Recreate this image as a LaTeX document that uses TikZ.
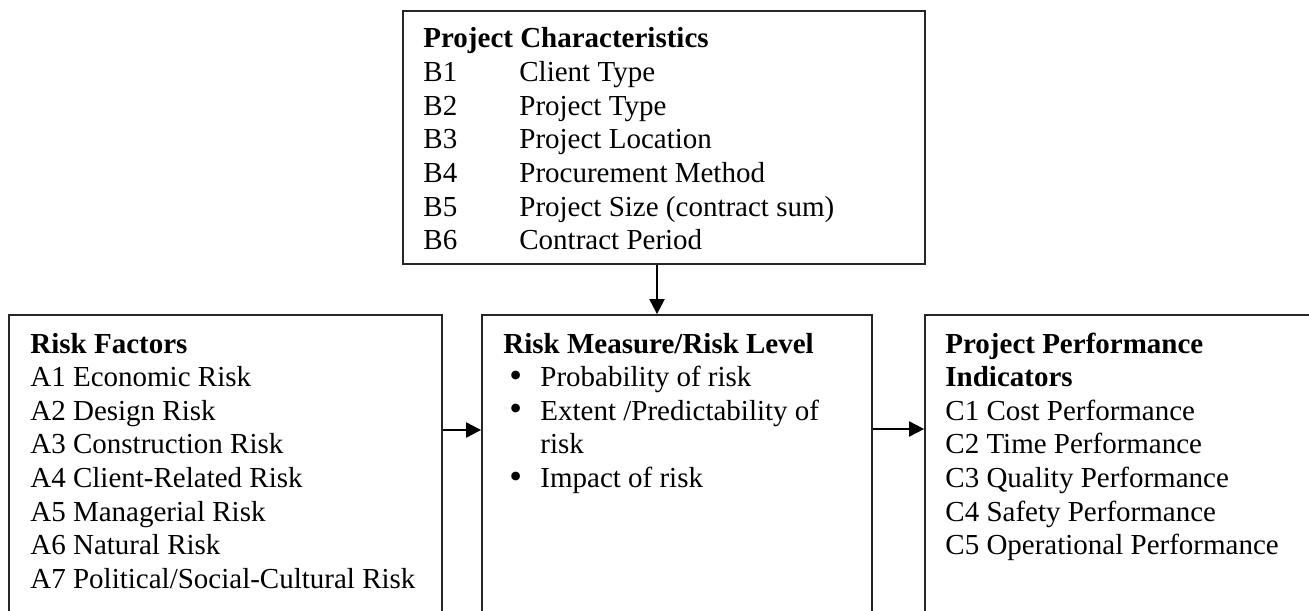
\documentclass[tikz,border=0pt]{standalone}
\usepackage{fontspec}
\setmainfont{Liberation Serif}
\usetikzlibrary{arrows.meta,fit}

\tikzset{
  box/.style={draw=black!85, line width=0.9pt, inner sep=0pt, rectangle},
  txt/.style={anchor=base west, inner sep=0pt, text=black,
    font=\fontsize{14.5pt}{16.8pt}\selectfont},
  link/.style={draw=black, line width=1pt, -{Triangle[length=7.5pt,width=7.5pt]}}
}
\newcommand{\itemdot}{\hspace{3pt}\raisebox{-0.3pt}{\scalebox{1.25}{\textbullet}}}

\begin{document}
\begin{tikzpicture}[x=0.5pt, y=-0.5pt]
  \useasboundingbox (0,0) rectangle (1309,610);
  \clip (0,0) rectangle (1309,610);

  % frames
  \node[box, fit={(403,11) (925,264)}] (chars) {};
  \node[box, fit={(9,315) (442,660)}] (factors) {};
  \node[box, fit={(482,315) (872,660)}] (measure) {};
  \node[box, fit={(925,315) (1360,660)}] (perf) {};

  % contents
  \node[txt] (charstxt) at (423,48) {%
    \begin{tabular}[t]{@{}p{48pt}@{}l@{}}
      \multicolumn{2}{@{}l@{}}{\textbf{Project Characteristics}}\\
      B1 & Client Type\\
      B2 & Project Type\\
      B3 & Project Location\\
      B4 & Procurement Method\\
      B5 & Project Size (contract sum)\\
      B6 & Contract Period
    \end{tabular}};

  \node[txt] (factorstxt) at (30,353) {%
    \begin{tabular}[t]{@{}l@{}}
      \textbf{Risk Factors}\\
      A1 Economic Risk\\
      A2 Design Risk\\
      A3 Construction Risk\\
      A4 Client-Related Risk\\
      A5 Managerial Risk\\
      A6 Natural Risk\\
      A7 Political/Social-Cultural Risk
    \end{tabular}};

  \node[txt] (measuretxt) at (503,353) {%
    \begin{tabular}[t]{@{}p{18.5pt}@{}l@{}}
      \multicolumn{2}{@{}l@{}}{\textbf{Risk Measure/Risk Level}}\\
      \itemdot & Probability of risk\\
      \itemdot & Extent /Predictability of\\
      & risk\\
      \itemdot & Impact of risk
    \end{tabular}};

  \node[txt] (perftxt) at (945,353) {%
    \begin{tabular}[t]{@{}l@{}}
      \textbf{Project Performance}\\
      \textbf{Indicators}\\
      C1 Cost Performance\\
      C2 Time Performance\\
      C3 Quality Performance\\
      C4 Safety Performance\\
      C5 Operational Performance
    \end{tabular}};

  % connectors
  \coordinate (down) at (657,0);
  \coordinate (rowa) at (0,430);
  \coordinate (rowb) at (0,429);
  \draw[link] (down |- chars.south) -- (down |- measure.north);
  \draw[link] (factors.east |- rowa) -- (measure.west |- rowa);
  \draw[link] (measure.east |- rowb) -- (perf.west |- rowb);
\end{tikzpicture}
\end{document}
